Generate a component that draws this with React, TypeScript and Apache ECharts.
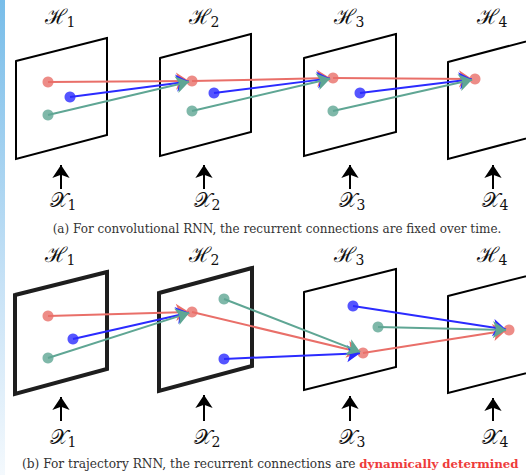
import React, { useEffect, useRef } from "react";
import * as echarts from "echarts";

// ---- diagram data (pixel-space coordinates on a 526 x 475 canvas) ----
const timeSteps = ["1", "2", "3", "4"];

// panel (a): convolutional RNN
const framesA: number[][][] = [
  [[16, 61], [107, 38], [107, 135], [16, 159]],
  [[160, 58], [251, 34], [251, 132], [160, 156]],
  [[304, 58], [396, 34], [396, 132], [304, 156]],
  [[448, 62], [539, 38], [539, 135], [448, 159]],
];
const redA: number[][] = [[48, 82], [192, 81], [333, 78], [475, 79]];
const blueA: number[][] = [[70, 97], [214, 93], [360, 93]];
const greenA: number[][] = [[48, 115], [192, 111], [333, 111]];

// panel (b): trajectory RNN
const framesB: number[][][] = [
  [[15, 295], [107, 272], [107, 369], [15, 394]],
  [[159, 293], [252, 268], [252, 366], [159, 391]],
  [[304, 292], [396, 269], [396, 367], [304, 390]],
  [[448, 296], [539, 273], [539, 370], [448, 393]],
];
const thickB = [true, true, false, false];
const redB: number[][] = [[48, 316], [192, 312], [363, 353], [509, 330]];
const blueB: number[][] = [[73, 339], [224, 359], [353, 306]];
const greenB: number[][] = [[48, 358], [224, 299], [378, 327]];

// input arrows (x, yBottom, yTop)
const inputA: number[][] = [[61, 189, 160], [204, 189, 160], [350, 189, 160], [493, 189, 160]];
const inputB: number[][] = [[61, 421, 392], [204, 421, 390], [350, 421, 391], [493, 421, 393]];
const labelX = [61, 205, 350, 493];

const captionA = "(a) For convolutional RNN, the recurrent connections are fixed over time.";
const captionB1 = "(b) For trajectory RNN, the recurrent connections are ";
const captionB2 = "dynamically determined";

const RED = "#e96f69";
const BLUE = "#2b2bff";
const GREEN = "#5fa694";

function shorten(a: number[], b: number[], d: number) {
  const dx = b[0] - a[0];
  const dy = b[1] - a[1];
  const L = Math.sqrt(dx * dx + dy * dy);
  return [b[0] - (dx / L) * d, b[1] - (dy / L) * d];
}

export default function App() {
  const ref = useRef<HTMLDivElement>(null);
  useEffect(() => {
    document.body.style.margin = "0";
    const chart = echarts.init(ref.current!, null, { renderer: "svg" });

    const series: any[] = [];
    const addFrames = (frames: number[][][], thick: boolean[] | null) => {
      frames.forEach((f, i) => {
        const t = thick ? thick[i] : false;
        series.push({
          type: "line",
          data: [...f, f[0], f[1]],
          symbol: "none",
          silent: true,
          clip: false,
          lineStyle: { color: t ? "#1e1e1e" : "#000", width: t ? 4 : 2, join: "miter", cap: "butt" },
          z: 1,
        });
      });
    };
    addFrames(framesA, null);
    addFrames(framesB, thickB);

    const conn = (reds: number[][], blues: number[][], greens: number[][]) => {
      const out: any[] = [];
      for (let i = 0; i < 3; i++) {
        const tgt = reds[i + 1];
        [[reds[i], RED], [blues[i], BLUE], [greens[i], GREEN]].forEach(([src, c]: any) => {
          out.push({ coords: [src, shorten(src, tgt, 3)], lineStyle: { color: c } });
        });
      }
      return out;
    };

    const dotSeries = (pts: number[][], color: string) => ({
      type: "scatter",
      data: pts,
      symbol: "circle",
      symbolSize: 11,
      itemStyle: { color },
      silent: true,
      z: 2,
    });
    series.push(dotSeries([...redA, ...redB], RED));
    series.push(dotSeries([...blueA, ...blueB], BLUE));
    series.push(dotSeries([...greenA, ...greenB], GREEN));

    series.push({
      type: "lines",
      coordinateSystem: "cartesian2d",
      data: [...conn(redA, blueA, greenA), ...conn(redB, blueB, greenB)],
      symbol: ["none", "arrow"],
      symbolSize: [10, 13],
      lineStyle: { width: 2, opacity: 1, curveness: 0 },
      silent: true,
      z: 3,
    });

    series.push({
      type: "lines",
      coordinateSystem: "cartesian2d",
      data: [...inputA, ...inputB].map((a) => ({ coords: [[a[0], a[1]], [a[0], a[2] + 5]] })),
      symbol: ["none", "arrow"],
      symbolSize: [9, 13],
      lineStyle: { width: 2, color: "#000", opacity: 1 },
      silent: true,
      z: 3,
    });

    const graphics: any[] = [
      {
        type: "rect",
        shape: { x: 0, y: 0, width: 5, height: 475 },
        style: {
          fill: new echarts.graphic.LinearGradient(0, 0, 0, 1, [
            { offset: 0, color: "#78bde9" },
            { offset: 0.6, color: "#c7e2f6" },
            { offset: 1, color: "#f4f9fd" },
          ]),
        },
        silent: true,
      },
    ];
    const mathLabel = (x: number, y: number, letter: string, sub: string) => ({
      type: "text",
      x,
      y,
      style: {
        text: "{l|" + letter + "}{s|" + sub + "}",
        align: "center",
        verticalAlign: "middle",
        rich: {
          l: { font: "21px 'DejaVu Serif'", fill: "#111", lineHeight: 26, verticalAlign: "middle" },
          s: { font: "14px 'DejaVu Serif'", fill: "#111", lineHeight: 26, verticalAlign: "bottom", padding: [0, 0, 1, 0] },
        },
      },
      silent: true,
    });
    timeSteps.forEach((s, i) => {
      graphics.push(mathLabel(labelX[i] - 1, 17, "\u210B", s));
      graphics.push(mathLabel(labelX[i] + 2, 200, "\uD835\uDCB3", s));
      graphics.push(mathLabel(labelX[i] - 1, 255, "\u210B", s));
      graphics.push(mathLabel(labelX[i] + 2, 437, "\uD835\uDCB3", s));
    });
    graphics.push({
      type: "text",
      x: 277,
      y: 229,
      style: { text: captionA, font: "12px 'DejaVu Serif'", fill: "#333", align: "center", verticalAlign: "middle" },
      silent: true,
    });
    graphics.push({
      type: "text",
      x: 22,
      y: 464,
      style: {
        text: "{n|" + captionB1 + "}{b|" + captionB2 + "}",
        verticalAlign: "middle",
        rich: {
          n: { font: "12.2px 'DejaVu Serif'", fill: "#333" },
          b: { font: "bold 11.8px 'DejaVu Serif'", fill: "#ee3b3b" },
        },
      },
      silent: true,
    });

    chart.setOption({
      animation: false,
      backgroundColor: "#fff",
      grid: { left: 0, right: 0, top: 0, bottom: 0 },
      xAxis: { type: "value", min: 0, max: 526, show: false },
      yAxis: { type: "value", min: 0, max: 475, inverse: true, show: false },
      series,
      graphic: graphics,
    });
    return () => chart.dispose();
  }, []);
  return <div ref={ref} style={{ width: 526, height: 475 }} />;
}
